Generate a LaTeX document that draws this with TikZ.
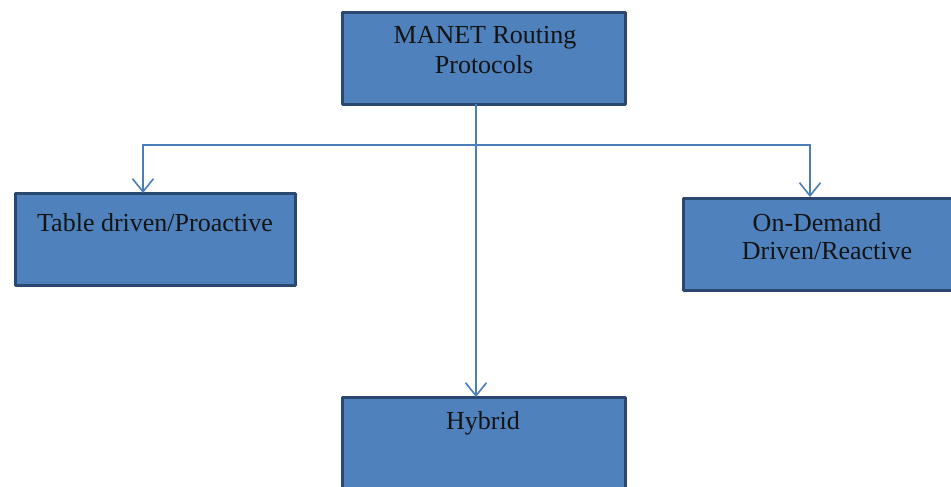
\documentclass[tikz,border=0pt]{standalone}
\usepackage{fontspec}
\setmainfont{Liberation Serif}
\usetikzlibrary{arrows.meta}
\definecolor{boxfill}{HTML}{4F81BD}
\definecolor{boxedge}{HTML}{2A4770}
\definecolor{linkblue}{HTML}{4A7EBB}
\begin{document}
\begin{tikzpicture}[x=1pt,y=-1pt,
  box/.style={draw=boxedge,fill=boxfill,line width=3pt,line join=round,line cap=round},
  txt/.style={anchor=base,inner sep=0pt,font=\fontsize{26}{30}\selectfont,text=black!92},
  link/.style={draw=linkblue,line width=1.6pt,-{Straight Barb[length=13pt,width=21pt,line width=1.6pt]}}]
\clip (0,0) rectangle (951,487);
\fill[white] (0,0) rectangle (951,487);
% boxes
\path[box] (342,13) rectangle (625,104) node[pos=0.5,inner sep=0pt] (top) {};
\path[box] (15,193) rectangle (295,285) node[pos=0.5,inner sep=0pt] (left) {};
\path[box] (683,198) rectangle (960,290) node[pos=0.5,inner sep=0pt] (right) {};
\path[box] (342,397) rectangle (625,500) node[pos=0.5,inner sep=0pt] (bottom) {};
% named edges of the boxes
\coordinate (topS) at (476,104);
\coordinate (hub) at (476,145);
\coordinate (leftN) at (143,193);
\coordinate (rightN) at (810,197);
\coordinate (bottomN) at (476,397);
% labels
\node[txt] (t1) at (485,44) {MANET Routing};
\node[txt] (t2) at (484,74) {Protocols};
\node[txt] (l1) at (155,231) {Table driven/Proactive};
\node[txt] (r1) at (817,231) {On-Demand};
\node[txt] (r2) at (827,259) {Driven/Reactive};
\node[txt] (b1) at (483,429) {Hybrid};
% connectors
\draw[link] (topS) -- (bottomN);
\draw[link] (hub) -| (leftN);
\draw[link] (hub) -| (rightN);
\end{tikzpicture}
\end{document}
